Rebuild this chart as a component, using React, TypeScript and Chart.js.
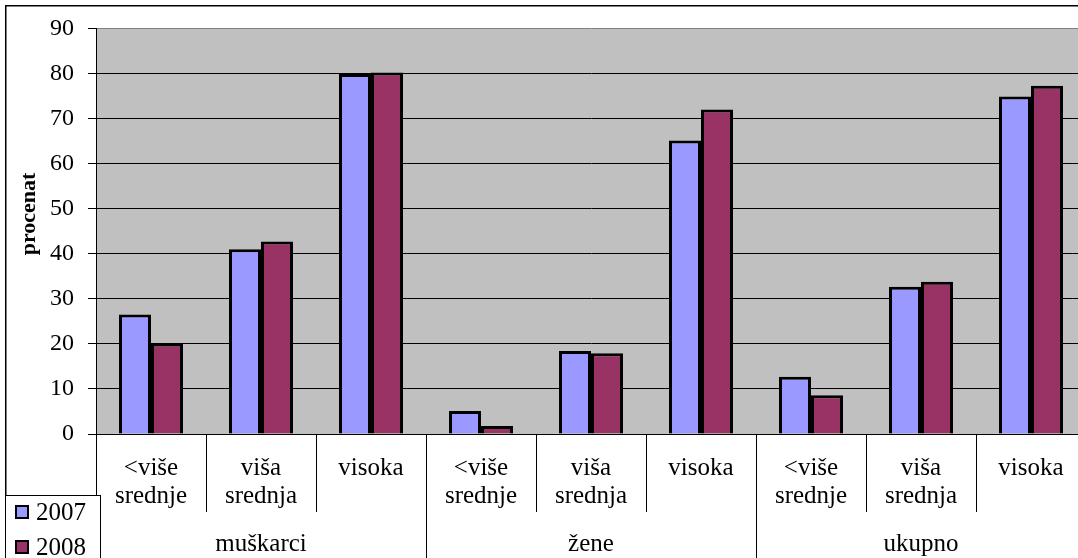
import React, { useEffect, useRef } from 'react';
import { Chart, registerables } from 'chart.js';

Chart.register(...registerables);

const groups = ['muškarci', 'žene', 'ukupno'];
const levels: string[][] = [['<više', 'srednje'], ['viša', 'srednja'], ['visoka']];
const seriesNames = ['2007', '2008'];
const values2007 = [26.5, 41.0, 79.9, 5.1, 18.4, 65.1, 12.7, 32.7, 74.9];
const values2008 = [20.1, 42.7, 80.2, 1.8, 17.9, 72.0, 8.6, 33.8, 77.3];
const seriesColors = ['#9999FF', '#993366'];
const yMin = 0;
const yMax = 90;
const yStep = 10;
const yTitle = 'procenat';

const FONT = "'Liberation Serif', 'Times New Roman', serif";

export default function App() {
  const ref = useRef<HTMLCanvasElement | null>(null);

  useEffect(() => {
    const canvas = ref.current;
    if (!canvas) return;

    const labels: string[][] = [];
    groups.forEach(() => levels.forEach((l) => labels.push(l)));

    const bgPlugin = {
      id: 'bgPlugin',
      beforeDraw(chart: any) {
        const { ctx, chartArea } = chart;
        ctx.save();
        ctx.fillStyle = '#ffffff';
        ctx.fillRect(0, 0, chart.width, chart.height);
        ctx.fillStyle = '#C0C0C0';
        ctx.fillRect(chartArea.left, chartArea.top, chartArea.right - chartArea.left, chartArea.bottom - chartArea.top);
        ctx.restore();
      },
    };

    const decoPlugin = {
      id: 'decoPlugin',
      afterDraw(chart: any) {
        const { ctx, chartArea } = chart;
        const xs = chart.scales.x;
        const n = labels.length;
        const half = (xs.getPixelForValue(1) - xs.getPixelForValue(0)) / 2;
        ctx.save();
        // category separators
        ctx.strokeStyle = '#000';
        ctx.lineWidth = 1;
        for (let i = 0; i <= n; i++) {
          const x = Math.round(xs.getPixelForValue(i) - half) + 0.5;
          const isGroup = i % levels.length === 0;
          ctx.beginPath();
          ctx.moveTo(x, chartArea.bottom);
          ctx.lineTo(x, isGroup ? chart.height : chartArea.bottom + 78);
          ctx.stroke();
        }
        // group labels
        ctx.fillStyle = '#000';
        ctx.font = `25px ${FONT}`;
        ctx.textAlign = 'center';
        ctx.textBaseline = 'middle';
        groups.forEach((g, gi) => {
          const a = xs.getPixelForValue(gi * levels.length) - half;
          const b = xs.getPixelForValue(gi * levels.length + levels.length - 1) + half;
          ctx.fillText(g, (a + b) / 2, 544);
        });
        // y title
        ctx.save();
        ctx.translate(29, 214);
        ctx.rotate(-Math.PI / 2);
        ctx.font = `bold 22px ${FONT}`;
        ctx.textAlign = 'center';
        ctx.textBaseline = 'middle';
        ctx.fillText(yTitle, 0, 0);
        ctx.restore();
        // outer border
        ctx.strokeStyle = '#000';
        ctx.lineWidth = 1.5;
        ctx.strokeRect(5.75, 5.75, chart.width + 20, chart.height + 20);
        // legend
        ctx.fillStyle = '#fff';
        ctx.fillRect(5, 495, 95, 80);
        ctx.lineWidth = 1;
        ctx.strokeRect(5.5, 495.5, 95, 80);
        chart.data.datasets.forEach((ds: any, i: number) => {
          const cy = 512 + i * 35;
          ctx.fillStyle = ds.backgroundColor;
          ctx.fillRect(15, cy - 7, 14, 14);
          ctx.lineWidth = 2;
          ctx.strokeStyle = '#000';
          ctx.strokeRect(16, cy - 6, 12, 12);
          ctx.fillStyle = '#000';
          ctx.font = `25px ${FONT}`;
          ctx.textAlign = 'left';
          ctx.textBaseline = 'middle';
          ctx.fillText(ds.label, 36, cy + 1);
        });
        ctx.restore();
      },
    };

    const chart = new Chart(canvas, {
      type: 'bar',
      data: {
        labels,
        datasets: [
          {
            label: seriesNames[0],
            data: values2007,
            backgroundColor: seriesColors[0],
            borderColor: '#000',
            borderWidth: 3,
            barPercentage: 1,
            categoryPercentage: 64 / 110,
          },
          {
            label: seriesNames[1],
            data: values2008,
            backgroundColor: seriesColors[1],
            borderColor: '#000',
            borderWidth: 3,
            barPercentage: 1,
            categoryPercentage: 64 / 110,
          },
        ],
      },
      options: {
        responsive: false,
        animation: false,
        devicePixelRatio: 1,
        layout: { padding: { top: 26, right: 14, bottom: 0, left: 0 } },
        plugins: {
          legend: { display: false },
          tooltip: { enabled: false },
          title: { display: false },
        },
        scales: {
          x: {
            offset: true,
            grid: { display: false, drawTicks: false },
            border: { display: true, color: '#000', width: 1 },
            ticks: {
              color: '#000',
              font: { family: FONT, size: 25, lineHeight: 28 / 25 },
              padding: 20,
              maxRotation: 0,
              minRotation: 0,
              autoSkip: false,
            },
            afterFit(scale: any) {
              scale.height = 124;
            },
          },
          y: {
            min: yMin,
            max: yMax,
            ticks: {
              stepSize: yStep,
              color: '#000',
              font: { family: FONT, size: 24 },
              padding: 14,
            },
            grid: {
              color: (c: any) => (c.tick && c.tick.value === yMax ? '#808080' : '#000'),
              tickColor: '#000',
              tickLength: 8,
              lineWidth: 1,
            },
            border: { display: true, color: '#000', width: 1 },
            afterFit(scale: any) {
              scale.width = 96;
            },
          },
        },
      },
      plugins: [bgPlugin, decoPlugin],
    });

    return () => chart.destroy();
  }, []);

  return (
    <div style={{ position: 'fixed', left: 0, top: 0, width: 1078, height: 558, overflow: 'hidden', background: '#fff' }}>
      <canvas ref={ref} width={1100} height={558} style={{ display: 'block', width: 1100, height: 558 }} />
    </div>
  );
}
